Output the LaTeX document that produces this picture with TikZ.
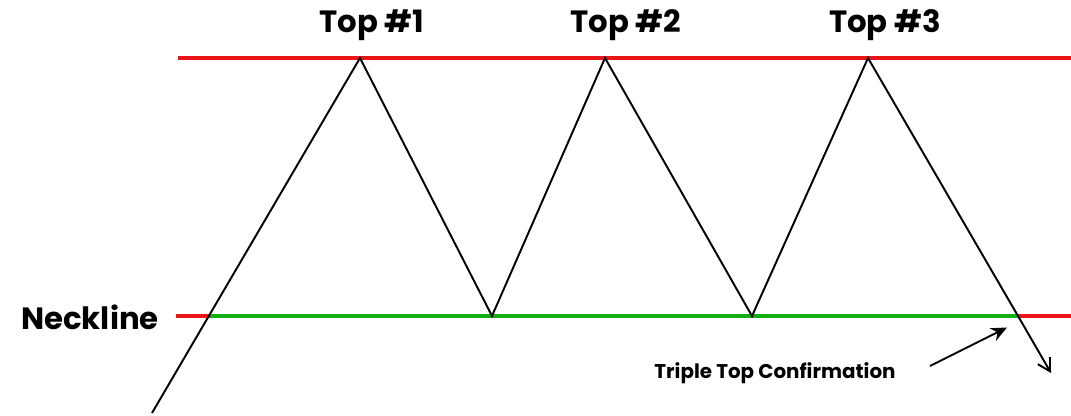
\documentclass[tikz,border=0pt]{standalone}
\usepackage{fontspec}
\setmainfont{Poppins}
\usetikzlibrary{arrows.meta}
\definecolor{levelred}{RGB}{235,20,25}
\definecolor{necklinegreen}{RGB}{20,175,20}
\tikzset{
  level/.style={line width=2.3pt},
  price/.style={line width=1.1pt, black},
  toplabel/.style={font=\bfseries\fontsize{17.5}{21}\selectfont, inner sep=0pt}
}
\begin{document}
\begin{tikzpicture}
\useasboundingbox (0,0) rectangle (21.42,8.32);
% resistance and neckline
\draw[level, levelred] (3.56,7.16) -- (21.42,7.16);
\draw[level, levelred] (3.52,2) -- (4.2,2);
\draw[level, necklinegreen] (4.2,2) -- (20.36,2);
\draw[level, levelred] (20.36,2) -- (21.42,2);
% price path
\coordinate (start) at (3.04,0.06);
\coordinate (p1) at (7.2,7.16);
\coordinate (t1) at (9.84,2);
\coordinate (p2) at (12.1,7.16);
\coordinate (t2) at (15.04,2);
\coordinate (p3) at (17.36,7.16);
\coordinate (break) at (20.36,2);
\coordinate (end) at (21.02,0.86);
\draw[price] (start) -- (p1) -- (t1) -- (p2) -- (t2) -- (p3) -- (break);
\draw[price, -{Straight Barb[length=7pt, width=8pt]}] (break) -- (end);
\node[toplabel] (top1) at (7.43,7.82) {Top \#1};
\node[toplabel] (top2) at (12.52,7.82) {Top \#2};
\node[toplabel] (top3) at (17.7,7.82) {Top \#3};
\node[toplabel] (neck) at (1.8,1.98) {Neckline};
\node[font=\bfseries\fontsize{11.3}{14}\selectfont, inner sep=0pt] (confirm) at (15.5,0.86) {Triple Top Confirmation};
\coordinate (cfrom) at (18.6,1.0);
\coordinate (ctip) at (20.14,1.77);
\draw[price, -{Stealth[length=9pt, width=8pt]}] (cfrom) -- (ctip);
\end{tikzpicture}
\end{document}
